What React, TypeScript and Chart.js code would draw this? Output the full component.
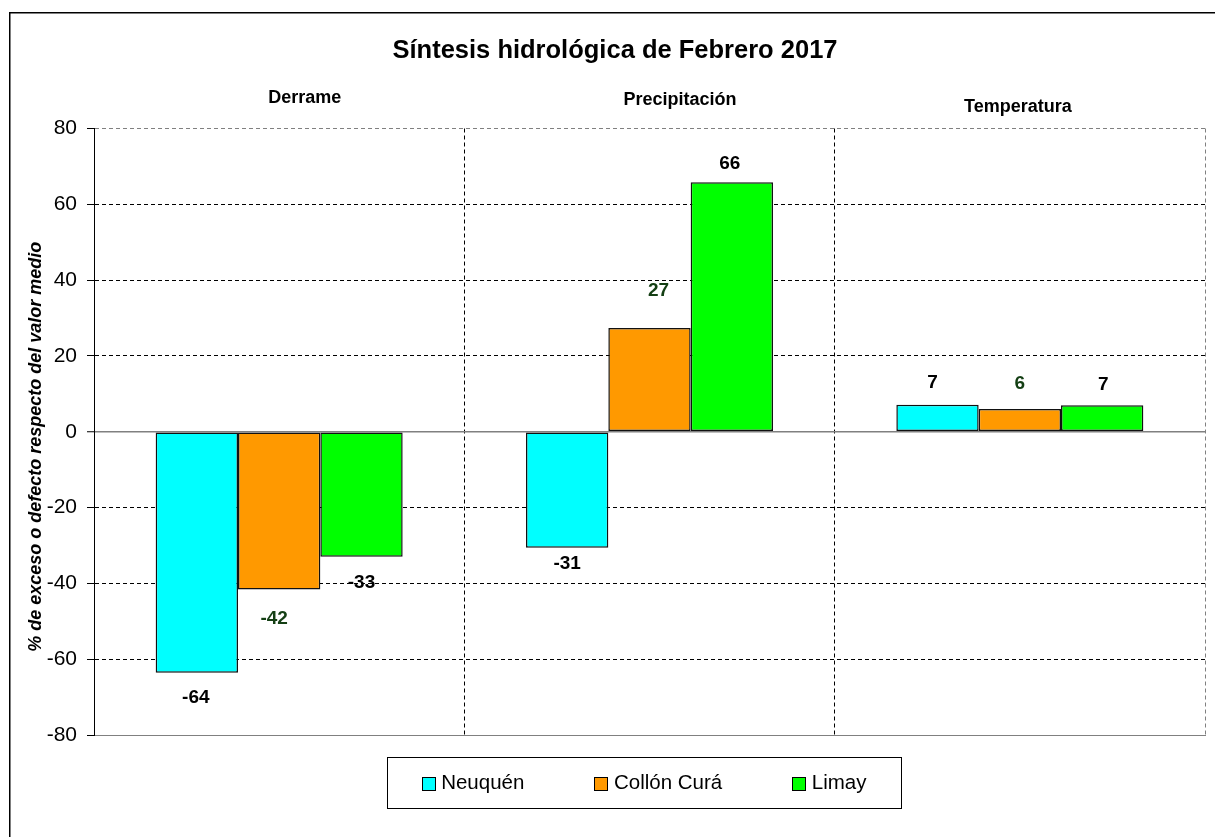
import React, { useEffect, useRef } from 'react';
import { Chart, registerables } from 'chart.js';

Chart.register(...registerables);

// ---------- data ----------
const categories = ['Derrame', 'Precipitación', 'Temperatura'];
const seriesNames = ['Neuquén', 'Collón Curá', 'Limay'];
const neuquen = [-63.6, -30.6, 7.1];
const collonCura = [-41.6, 27.4, 6.0];
const limay = [-33.0, 65.8, 7.0];
const yTicks = [-80, -60, -40, -20, 0, 20, 40, 60, 80];
const chartTitle = 'Síntesis hidrológica de Febrero 2017';
const yAxisTitle = '% de exceso o defecto respecto del valor medio';

// ---------- styles ----------
const FF = '"Liberation Sans", Arial, Helvetica, sans-serif';
const seriesColors = ['#00FFFF', '#FF9900', '#00FF00'];
const labelColors = ['#000000', '#143f14', '#000000'];
// distance (px) of each value label centre from the bar end, per series / category
const labelGap = [
  [23, 14, 24],
  [28, 39, 27],
  [24, 20, 22],
];
const labelDx = [
  [-1, 0, -5],
  [-5, 9, 0],
  [0, -2, 1],
];
// category header offsets relative to category centre / chart top (baseline)
const headerDx = [25.5, 30.5, -2];
const headerDy = [-25.2, -23.9, -16.2];

const framePlugin = {
  id: 'frame',
  beforeDraw(chart: any) {
    const { ctx, width, height } = chart;
    ctx.save();
    ctx.fillStyle = '#ffffff';
    ctx.fillRect(0, 0, width, height);
    ctx.strokeStyle = '#000';
    ctx.lineWidth = 1.5;
    ctx.beginPath();
    ctx.moveTo(9.75, height);
    ctx.lineTo(9.75, 12.75);
    ctx.lineTo(width, 12.75);
    ctx.stroke();
    ctx.restore();
  },
};

const headerPlugin = {
  id: 'headers',
  afterDraw(chart: any) {
    const { ctx, chartArea } = chart;
    const xs = chart.scales.x;
    ctx.save();
    ctx.font = `bold 18px ${FF}`;
    ctx.fillStyle = '#000';
    ctx.textAlign = 'center';
    ctx.textBaseline = 'alphabetic';
    categories.forEach((c, i) => {
      ctx.fillText(c, xs.getPixelForValue(i) + headerDx[i], chartArea.top + headerDy[i]);
    });
    // rotated y-axis title
    const ys = chart.scales.y;
    ctx.translate(ys.left + 11, (chartArea.top + chartArea.bottom) / 2 + 15);
    ctx.rotate(-Math.PI / 2);
    ctx.font = `italic bold 18px ${FF}`;
    ctx.textBaseline = 'middle';
    ctx.fillText(yAxisTitle, 0, 0);
    ctx.restore();
  },
};

const valueLabelPlugin = {
  id: 'valueLabels',
  afterDatasetsDraw(chart: any) {
    const { ctx } = chart;
    ctx.save();
    ctx.font = `bold 19px ${FF}`;
    ctx.textAlign = 'center';
    ctx.textBaseline = 'alphabetic';
    chart.data.datasets.forEach((ds: any, di: number) => {
      const meta = chart.getDatasetMeta(di);
      meta.data.forEach((bar: any, i: number) => {
        const v = ds.data[i] as number;
        const { x, y } = bar.getProps(['x', 'y'], true);
        const dir = v < 0 ? 1 : -1;
        const cy = y + dir * labelGap[di][i];
        ctx.fillStyle = labelColors[di];
        ctx.fillText(v.toFixed(0), x + labelDx[di][i], cy + 0.358 * 19);
      });
    });
    ctx.restore();
  },
};

const legendPlugin = {
  id: 'boxLegend',
  afterDraw(chart: any) {
    const { ctx, chartArea } = chart;
    const boxW = 514;
    const boxH = 51;
    const cx = (chartArea.left + chartArea.right) / 2 - 5.5;
    const bx = Math.round(cx - boxW / 2) + 0.5;
    const by = Math.round(chartArea.bottom + 22) + 0.5;
    ctx.save();
    ctx.strokeStyle = '#000';
    ctx.lineWidth = 1;
    ctx.strokeRect(bx, by, boxW, boxH);
    const fontSize = 20.5;
    ctx.font = `${fontSize}px ${FF}`;
    const sw = 13;
    const gap = 6.6;
    const spacing = 70;
    const widths = chart.data.datasets.map((d: any) => ctx.measureText(d.label).width);
    const total =
      widths.reduce((a: number, w: number) => a + sw + gap + w, 0) + spacing * (widths.length - 1);
    let x = cx - total / 2;
    const midY = by + boxH / 2;
    ctx.textBaseline = 'alphabetic';
    ctx.textAlign = 'left';
    chart.data.datasets.forEach((d: any, i: number) => {
      const sx = Math.round(x) + 0.5;
      const sy = Math.round(midY - sw / 2) + 0.5;
      ctx.fillStyle = d.backgroundColor;
      ctx.fillRect(sx, sy, sw, sw);
      ctx.strokeStyle = '#000';
      ctx.strokeRect(sx, sy, sw, sw);
      ctx.fillStyle = '#000';
      ctx.fillText(d.label, x + sw + gap, midY - 1 + 0.358 * fontSize);
      x += sw + gap + widths[i] + spacing;
    });
    ctx.restore();
  },
};

export default function App() {
  const ref = useRef<HTMLCanvasElement>(null);

  useEffect(() => {
    if (!ref.current) return;
    const values = [neuquen, collonCura, limay];
    const chart = new Chart(ref.current, {
      type: 'bar',
      data: {
        labels: categories,
        datasets: seriesNames.map((name, i) => ({
          label: name,
          data: values[i],
          backgroundColor: seriesColors[i],
          borderColor: '#111',
          borderWidth: 1.5,
          borderSkipped: false,
          barPercentage: 1,
          categoryPercentage: 0.667,
        })),
      },
      options: {
        responsive: false,
        animation: false,
        layout: { padding: { left: 25, right: 10, top: 0, bottom: 102 } },
        plugins: {
          legend: { display: false },
          tooltip: { enabled: false },
          title: {
            display: true,
            text: chartTitle,
            color: '#000',
            font: { family: FF, size: 25.5, weight: 'bold' },
            padding: { top: 35.2, bottom: 62.7 },
          },
        },
        scales: {
          x: {
            offset: true,
            ticks: { display: false },
            grid: {
              offset: true,
              drawTicks: false,
              lineWidth: 1,
              color: (c: any) =>
                c.type === 'tick' && c.index === 0
                  ? 'rgba(0,0,0,0)'
                  : c.type === 'scale'
                  ? '#808080'
                  : '#000',
            },
            border: { display: true, color: '#808080', width: 1, dash: [4, 3] },
            afterFit: (s: any) => {
              s.height = 0;
            },
          },
          y: {
            min: -80,
            max: 80,
            afterBuildTicks: (s: any) => {
              s.ticks = yTicks.map((value) => ({ value }));
            },
            afterFit: (s: any) => {
              s.width = 69;
            },
            ticks: {
              color: '#000',
              font: { family: FF, size: 21 },
              padding: 10,
            },
            grid: {
              lineWidth: (c: any) => (c.tick && c.tick.value === 0 ? 1.5 : 1),
              drawTicks: true,
              tickLength: 7,
              tickColor: '#000',
              tickWidth: 1,
              tickBorderDash: [],
              color: (c: any) =>
                c.tick && (c.tick.value === 0 || Math.abs(c.tick.value) === 80) ? '#808080' : '#000',
            },
            border: {
              display: true,
              color: '#000',
              width: 1,
              dash: (c: any) =>
                c.tick && (c.tick.value === 0 || c.tick.value === -80) ? [] : [4, 3],
            },
            title: { display: false },
          },
        },
      },
      plugins: [framePlugin, headerPlugin, valueLabelPlugin, legendPlugin],
    } as any);
    return () => chart.destroy();
  }, []);

  return (
    <div
      style={{
        position: 'absolute',
        left: 0,
        top: 0,
        width: 1215,
        height: 837,
        overflow: 'hidden',
        background: '#fff',
      }}
    >
      <canvas ref={ref} width={1215} height={837} style={{ display: 'block' }} />
    </div>
  );
}
